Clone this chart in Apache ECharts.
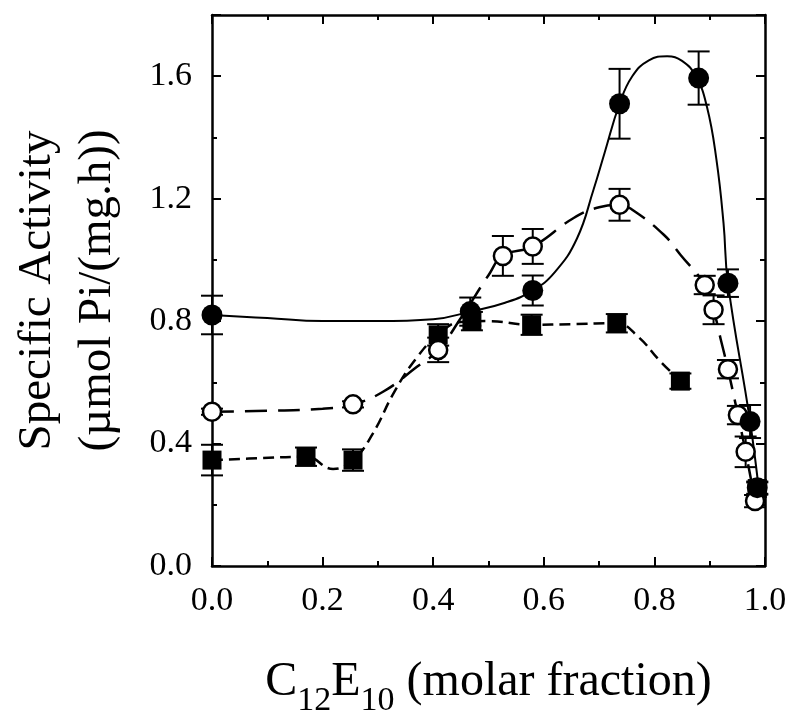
<!DOCTYPE html>
<html>
<head>
<meta charset="utf-8">
<script src="https://cdn.jsdelivr.net/npm/echarts@6/dist/echarts.min.js"></script>
<style>
  html, body { margin: 0; padding: 0; background: #fff; }
  #chart { width: 800px; height: 723px; }
</style>
</head>
<body>
<div id="chart"></div>
<script>
// filled circles (solid fit)
const filledX = [0, 0.467, 0.58, 0.737, 0.88, 0.933, 0.973, 0.986]
const filledY = [0.82, 0.831, 0.90, 1.51, 1.594, 0.924, 0.472, 0.256]
const filledErr = [0.063, 0.046, 0.049, 0.114, 0.087, 0.045, 0.054, 0.02]

// open circles (long dashes)
const openX = [0, 0.255, 0.409, 0.526, 0.58, 0.737, 0.891, 0.907, 0.933, 0.951, 0.965, 0.982]
const openY = [0.504, 0.528, 0.706, 1.013, 1.044, 1.18, 0.918, 0.837, 0.643, 0.493, 0.373, 0.212]
const openErr = [0.01, 0.01, 0.04, 0.065, 0.057, 0.052, 0.03, 0.047, 0.03, 0.03, 0.05, 0.02]

// filled squares (short dashes)
const squareX = [0, 0.17, 0.255, 0.409, 0.47, 0.578, 0.732, 0.847, 0.986]
const squareY = [0.346, 0.357, 0.346, 0.755, 0.80, 0.788, 0.793, 0.604, 0.253]
const squareErr = [0.05, 0.03, 0.035, 0.035, 0.03, 0.033, 0.03, 0.025, 0.02]

// fitted curves
const solidCurveX = [0, 0.1, 0.2, 0.3, 0.4, 0.467, 0.53, 0.58, 0.62, 0.66, 0.69, 0.71, 0.737, 0.76, 0.79, 0.823, 0.85, 0.875, 0.895, 0.912, 0.925, 0.933, 0.973, 0.99]
const solidCurveY = [0.82, 0.81, 0.80, 0.80, 0.806, 0.831, 0.86, 0.90, 0.96, 1.07, 1.23, 1.35, 1.51, 1.60, 1.652, 1.665, 1.65, 1.60, 1.50, 1.33, 1.12, 0.924, 0.472, 0.23]

const openCurveX = [0, 0.1, 0.2, 0.255, 0.31, 0.37, 0.409, 0.45, 0.5, 0.526, 0.58, 0.654, 0.7, 0.737, 0.76, 0.817, 0.847, 0.891, 0.907, 0.92, 0.933, 0.951, 0.965, 0.982]
const openCurveY = [0.504, 0.507, 0.514, 0.528, 0.57, 0.65, 0.706, 0.81, 0.95, 1.013, 1.044, 1.137, 1.172, 1.18, 1.164, 1.082, 1.017, 0.918, 0.837, 0.74, 0.643, 0.493, 0.373, 0.212]

const squareCurveX = [0, 0.085, 0.17, 0.219, 0.255, 0.29, 0.33, 0.37, 0.409, 0.45, 0.5, 0.578, 0.65, 0.732, 0.77, 0.81, 0.847]
const squareCurveY = [0.346, 0.352, 0.357, 0.317, 0.346, 0.43, 0.57, 0.68, 0.755, 0.797, 0.80, 0.788, 0.79, 0.793, 0.75, 0.67, 0.604]

const xTicks = ['0.0', '0.2', '0.4', '0.6', '0.8', '1.0']
const yTicks = ['0.0', '0.4', '0.8', '1.2', '1.6']

const font = 'Liberation Serif'
const pairs = (xs, ys) => xs.map((x, i) => [x, ys[i]])

function errorBars(name, xs, ys, errs, z) {
  return {
    name,
    type: 'custom',
    z,
    silent: true,
    data: xs.map((x, i) => [x, ys[i] - errs[i], ys[i] + errs[i]]),
    encode: { x: 0, y: [1, 2] },
    renderItem: (params, api) => {
      const lo = api.coord([api.value(0), api.value(1)])
      const hi = api.coord([api.value(0), api.value(2)])
      const w = 11
      const style = { stroke: '#000', lineWidth: 2 }
      return {
        type: 'group',
        children: [
          { type: 'line', shape: { x1: lo[0], y1: lo[1], x2: hi[0], y2: hi[1] }, style },
          { type: 'line', shape: { x1: lo[0] - w, y1: lo[1], x2: lo[0] + w, y2: lo[1] }, style },
          { type: 'line', shape: { x1: hi[0] - w, y1: hi[1], x2: hi[0] + w, y2: hi[1] }, style },
        ],
      }
    },
  }
}

function curve(name, xs, ys, dash, width) {
  return {
    name,
    type: 'line',
    data: pairs(xs, ys),
    smooth: 0.45,
    showSymbol: false,
    symbol: 'none',
    z: 2,
    lineStyle: { color: '#000', width, type: dash },
  }
}

const chart = echarts.init(document.getElementById('chart'))

const tickStyle = { color: '#000', width: 2 }
const lineOn = () => ({ show: true, onZero: false, lineStyle: { color: '#000', width: 2.5 } })
const lineOff = () => ({ show: false, onZero: false })

const yBase = { type: 'value', min: 0, max: 1.8, splitLine: { show: false } }

chart.setOption({
  animation: false,
  backgroundColor: '#fff',
  grid: { left: 212, right: 35, top: 15, bottom: 156 },
  xAxis: [
    {
      type: 'value',
      min: 0,
      max: 1,
      interval: 0.2,
      position: 'bottom',
      splitLine: { show: false },
      axisLine: lineOn(),
      axisTick: { inside: true, length: 9, lineStyle: tickStyle },
      minorTick: { show: true, splitNumber: 2, length: 5, lineStyle: tickStyle },
      axisLabel: {
        margin: 18,
        color: '#000',
        fontFamily: font,
        fontSize: 34,
        formatter: (v) => xTicks[Math.round(v / 0.2)] || '',
      },
      name: '{n|C}{s|12}{n|E}{s|10}{n| (molar fraction)}',
      nameLocation: 'middle',
      nameGap: 80,
      nameTextStyle: {
        color: '#000',
        fontFamily: font,
        fontSize: 48,
        rich: {
          n: { fontFamily: font, fontSize: 48, color: '#000' },
          s: { fontFamily: font, fontSize: 34, color: '#000', padding: [38, 0, 0, 0] },
        },
      },
    },
    {
      type: 'value',
      min: 0,
      max: 1,
      interval: 0.2,
      position: 'top',
      splitLine: { show: false },
      axisLine: lineOn(),
      axisTick: { show: true, inside: true, length: 9, lineStyle: tickStyle },
      minorTick: { show: true, splitNumber: 2, length: 5, lineStyle: tickStyle },
      axisLabel: { show: false },
    },
  ],
  yAxis: [
    {
      ...yBase,
      position: 'left',
      interval: 0.2,
      axisLine: lineOn(),
      axisTick: { inside: true, length: 5, lineStyle: tickStyle },
      axisLabel: {
        margin: 20,
        color: '#000',
        fontFamily: font,
        fontSize: 34,
        formatter: (v) => {
          const k = Math.round(v / 0.2)
          return k % 2 === 0 ? (yTicks[k / 2] || '') : ''
        },
      },
      name: 'Specific Activity\n(µmol Pi/(mg.h))',
      nameLocation: 'middle',
      nameRotate: 90,
      nameGap: 84,
      nameTextStyle: { color: '#000', fontFamily: font, fontSize: 47, lineHeight: 60 },
    },
    {
      ...yBase,
      position: 'left',
      interval: 0.4,
      axisLine: lineOff(),
      axisTick: { inside: true, length: 9, lineStyle: tickStyle },
      axisLabel: { show: false },
    },
    {
      ...yBase,
      position: 'right',
      interval: 0.2,
      axisLine: lineOn(),
      axisTick: { inside: true, length: 5, lineStyle: tickStyle },
      axisLabel: { show: false },
    },
    {
      ...yBase,
      position: 'right',
      interval: 0.4,
      axisLine: lineOff(),
      axisTick: { inside: true, length: 9, lineStyle: tickStyle },
      axisLabel: { show: false },
    },
  ],
  series: [
    curve('solid fit', solidCurveX, solidCurveY, 'solid', 2),
    curve('open fit', openCurveX, openCurveY, [22, 11], 2.5),
    curve('square fit', squareCurveX, squareCurveY, [11, 6], 2.5),
    errorBars('square err', squareX, squareY, squareErr, 3),
    errorBars('open err', openX, openY, openErr, 3),
    errorBars('filled err', filledX, filledY, filledErr, 3),
    {
      name: 'squares',
      type: 'scatter',
      z: 4,
      symbol: 'rect',
      symbolSize: [19, 19],
      itemStyle: { color: '#000', opacity: 1 },
      data: pairs(squareX, squareY),
    },
    {
      name: 'open',
      type: 'scatter',
      z: 5,
      symbol: 'circle',
      symbolSize: 18,
      itemStyle: { color: '#fff', borderColor: '#000', borderWidth: 2.5, opacity: 1 },
      data: pairs(openX, openY),
    },
    {
      name: 'filled',
      type: 'scatter',
      z: 6,
      symbol: 'circle',
      symbolSize: 21,
      itemStyle: { color: '#000', opacity: 1 },
      data: pairs(filledX, filledY),
    },
  ],
})
</script>
</body>
</html>
